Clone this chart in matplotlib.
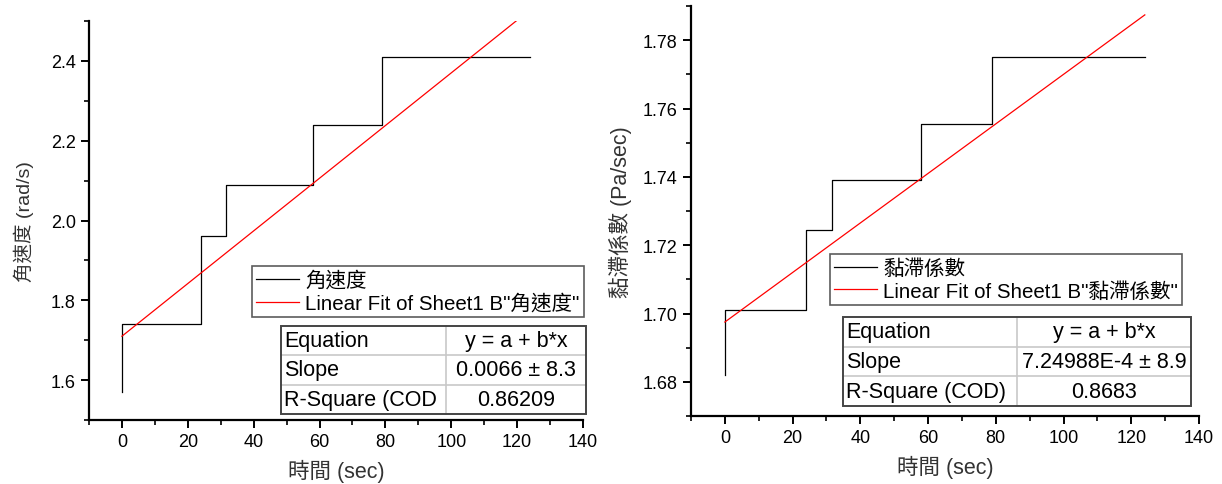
import matplotlib
matplotlib.use("Agg")
import matplotlib.pyplot as plt
from matplotlib.lines import Line2D
from matplotlib.ticker import MultipleLocator
import numpy as np

plt.rcParams['font.family'] = ['Liberation Sans', 'Noto Sans CJK TC', 'DejaVu Sans']

# ---- data ----
time_steps = [0, 0, 24, 31.5, 58, 79, 124]
omega_vals = [1.57, 1.74, 1.96, 2.09, 2.24, 2.41, 2.41]
visc_vals = [1.682, 1.701, 1.7245, 1.739, 1.7555, 1.775, 1.775]

omega_intercept = 1.71
omega_slope = 0.0066
visc_intercept = 1.6975
visc_slope = 7.24988e-4
fit_x = [0, 124]

x_ticks = [0, 20, 40, 60, 80, 100, 120, 140]

left_ylabel = "角速度 (rad/s)"
right_ylabel = "黏滯係數 (Pa/sec)"
xlabel = "時間 (sec)"
left_name = "角速度"
right_name = "黏滯係數"

left_table = [["Equation", "y = a + b*x"],
              ["Slope", "0.0066 ± 8.3"],
              ["R-Square (COD", "0.86209"]]
right_table = [["Equation", "y = a + b*x"],
               ["Slope", "7.24988E-4 ± 8.9"],
               ["R-Square (COD)", "0.8683"]]

W, H = 1222, 485
fig = plt.figure(figsize=(W / 100, H / 100), dpi=100)


def fx(px):
    return px / W


def fy(py):
    return 1 - py / H


def make_axes(l, r, t, b):
    return fig.add_axes([fx(l), fy(b), fx(r) - fx(l), fy(t) - fy(b)])


def style_axes(ax, xlim, ylim, ymaj, ymin):
    ax.set_xlim(*xlim)
    ax.set_ylim(*ylim)
    ax.spines['top'].set_visible(False)
    ax.spines['right'].set_visible(False)
    for s in ['left', 'bottom']:
        ax.spines[s].set_linewidth(1.6)
    ax.set_xticks(x_ticks)
    ax.xaxis.set_minor_locator(MultipleLocator(10))
    ax.yaxis.set_major_locator(MultipleLocator(ymaj))
    ax.yaxis.set_minor_locator(MultipleLocator(ymin))
    ax.tick_params(which='major', direction='out', length=6, width=1.4, labelsize=13, colors='black')
    ax.tick_params(which='minor', direction='out', length=3.5, width=1.2)


def draw_table(rows, l, r, t, b, split):
    n = len(rows)
    rh = (b - t) / n
    fig.add_artist(plt.Rectangle((fx(l), fy(b)), fx(r) - fx(l), fy(t) - fy(b),
                                 transform=fig.transFigure, fill=False,
                                 edgecolor='#444444', linewidth=1.4, zorder=10))
    fig.add_artist(Line2D([fx(split), fx(split)], [fy(t), fy(b)], transform=fig.transFigure,
                          color='#c8c8c8', linewidth=1.2, zorder=9))
    for i in range(1, n):
        yy = t + i * rh
        fig.add_artist(Line2D([fx(l), fx(r)], [fy(yy), fy(yy)], transform=fig.transFigure,
                              color='#c8c8c8', linewidth=1.2, zorder=9))
    for i, (a, v) in enumerate(rows):
        yc = t + (i + 0.5) * rh
        fig.text(fx(l + 3), fy(yc), a, ha='left', va='center', fontsize=15.5)
        fig.text(fx((split + r) / 2), fy(yc), v, ha='center', va='center', fontsize=15.5)


def add_legend(ax, l, t):
    leg = ax.legend(loc='upper left', bbox_to_anchor=(fx(l), fy(t)), bbox_transform=fig.transFigure,
                    fancybox=False, edgecolor='#333333', fontsize=14.8, handlelength=2.1,
                    borderpad=0.2, labelspacing=0.15, handletextpad=0.3, borderaxespad=0)
    leg.get_frame().set_linewidth(1.2)
    return leg


# ---- left panel ----
ax1 = make_axes(89, 583, 22, 421)
ax1.plot(time_steps, omega_vals, drawstyle='steps-post', color='black', linewidth=0.9, label=left_name)
fx1 = np.array(fit_x)
ax1.plot(fx1, omega_intercept + omega_slope * fx1, color='red', linewidth=0.9,
         label='Linear Fit of Sheet1 B"' + left_name + '"')
style_axes(ax1, (-10, 140), (1.5, 2.5), 0.2, 0.1)
ax1.set_ylabel(left_ylabel, fontsize=14, color='#333333', labelpad=12)
ax1.set_xlabel(xlabel, fontsize=15.5, color='#333333', labelpad=6)
add_legend(ax1, 252, 267)
draw_table(left_table, 281, 586, 327, 415, 446)

# ---- right panel ----
ax2 = make_axes(691, 1199, 7, 417)
ax2.plot(time_steps, visc_vals, drawstyle='steps-post', color='black', linewidth=0.9, label=right_name)
ax2.plot(fx1, visc_intercept + visc_slope * fx1, color='red', linewidth=0.9,
         label='Linear Fit of Sheet1 B"' + right_name + '"')
style_axes(ax2, (-10, 140), (1.67, 1.79), 0.02, 0.01)
ax2.set_ylabel(right_ylabel, fontsize=15.5, color='#333333', labelpad=8)
ax2.set_xlabel(xlabel, fontsize=15.5, color='#333333', labelpad=6)
add_legend(ax2, 830, 255)
draw_table(right_table, 843, 1191, 318, 407, 1017)

fig.savefig('out.png', dpi=100)
